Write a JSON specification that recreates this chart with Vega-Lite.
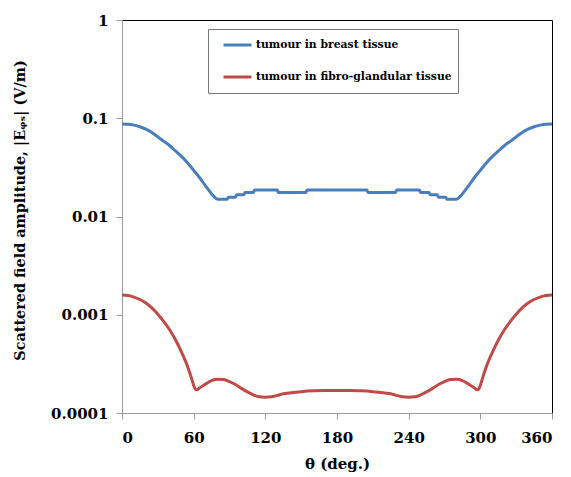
{
  "$schema": "https://vega.github.io/schema/vega-lite/v6.json",
  "width": 430,
  "height": 393,
  "autosize": {"type": "none"},
  "padding": {"left": 122, "top": 20, "right": 19, "bottom": 64},
  "background": "white",
  "config": {
    "view": {"stroke": "#000000", "strokeWidth": 1},
    "font": "DejaVu Serif",
    "axis": {
      "grid": false,
      "domainColor": "#9a9a9a",
      "tickColor": "#9a9a9a",
      "labelFont": "DejaVu Serif",
      "labelFontWeight": "bold",
      "labelFontSize": 15,
      "labelColor": "#000000",
      "titleFont": "DejaVu Serif",
      "titleFontWeight": "bold",
      "titleFontSize": 15,
      "titleColor": "#000000",
      "tickSize": 6
    }
  },
  "layer": [
    {
      "data": {"values": [
        {"t": 0, "v": 0.0874}, {"t": 5, "v": 0.0869}, {"t": 10, "v": 0.0851}, {"t": 15, "v": 0.082},
        {"t": 20, "v": 0.0776}, {"t": 25, "v": 0.0716}, {"t": 30, "v": 0.0646}, {"t": 35, "v": 0.0582},
        {"t": 40, "v": 0.0525}, {"t": 45, "v": 0.0462}, {"t": 50, "v": 0.0407}, {"t": 55, "v": 0.0351},
        {"t": 60, "v": 0.0295}, {"t": 65, "v": 0.0248}, {"t": 70, "v": 0.0204}, {"t": 75, "v": 0.017},
        {"t": 78, "v": 0.0155}, {"t": 80, "v": 0.015}, {"t": 88, "v": 0.015}, {"t": 89, "v": 0.0157},
        {"t": 95, "v": 0.0157}, {"t": 96, "v": 0.0166}, {"t": 102, "v": 0.0166}, {"t": 103, "v": 0.0176},
        {"t": 110, "v": 0.0176}, {"t": 111, "v": 0.0186}, {"t": 130, "v": 0.0186}, {"t": 131, "v": 0.0176},
        {"t": 154, "v": 0.0176}, {"t": 155, "v": 0.0186}, {"t": 180, "v": 0.0186}, {"t": 205, "v": 0.0186},
        {"t": 206, "v": 0.0176}, {"t": 229, "v": 0.0176}, {"t": 230, "v": 0.0186}, {"t": 249, "v": 0.0186},
        {"t": 250, "v": 0.0176}, {"t": 257, "v": 0.0176}, {"t": 258, "v": 0.0166}, {"t": 264, "v": 0.0166},
        {"t": 265, "v": 0.0157}, {"t": 271, "v": 0.0157}, {"t": 272, "v": 0.015}, {"t": 280, "v": 0.015},
        {"t": 282, "v": 0.0155}, {"t": 285, "v": 0.017}, {"t": 290, "v": 0.0204}, {"t": 295, "v": 0.0248},
        {"t": 300, "v": 0.0295}, {"t": 305, "v": 0.0351}, {"t": 310, "v": 0.0407}, {"t": 315, "v": 0.0462},
        {"t": 320, "v": 0.0525}, {"t": 325, "v": 0.0582}, {"t": 330, "v": 0.0646}, {"t": 335, "v": 0.0716},
        {"t": 340, "v": 0.0776}, {"t": 345, "v": 0.082}, {"t": 350, "v": 0.0851}, {"t": 355, "v": 0.0869},
        {"t": 360, "v": 0.0874}
      ]},
      "mark": {"type": "line", "strokeWidth": 3, "interpolate": "monotone"},
      "encoding": {
        "x": {"field": "t", "type": "quantitative"},
        "y": {"field": "v", "type": "quantitative"},
        "color": {"datum": "tumour in breast tissue"}
      }
    },
    {
      "data": {"values": [
        {"t": 0, "v": 0.001585}, {"t": 5, "v": 0.001567}, {"t": 10, "v": 0.001514}, {"t": 15, "v": 0.001429},
        {"t": 20, "v": 0.001318}, {"t": 25, "v": 0.001175}, {"t": 30, "v": 0.001012}, {"t": 35, "v": 0.000851},
        {"t": 40, "v": 0.0007}, {"t": 45, "v": 0.00055}, {"t": 50, "v": 0.000412}, {"t": 55, "v": 0.000295},
        {"t": 58, "v": 0.000229}, {"t": 60, "v": 0.000191}, {"t": 61, "v": 0.000178}, {"t": 62, "v": 0.000172},
        {"t": 63, "v": 0.000172}, {"t": 64, "v": 0.000176}, {"t": 65, "v": 0.00018}, {"t": 70, "v": 0.000197},
        {"t": 75, "v": 0.000214}, {"t": 80, "v": 0.000221}, {"t": 85, "v": 0.000219}, {"t": 90, "v": 0.000209},
        {"t": 95, "v": 0.000195}, {"t": 100, "v": 0.000178}, {"t": 105, "v": 0.000164}, {"t": 110, "v": 0.000153},
        {"t": 115, "v": 0.000146}, {"t": 120, "v": 0.000145}, {"t": 125, "v": 0.000146}, {"t": 130, "v": 0.000151},
        {"t": 135, "v": 0.000157}, {"t": 140, "v": 0.00016}, {"t": 150, "v": 0.000165}, {"t": 160, "v": 0.000168},
        {"t": 170, "v": 0.000169}, {"t": 180, "v": 0.000169}, {"t": 190, "v": 0.000169}, {"t": 200, "v": 0.000168},
        {"t": 210, "v": 0.000165}, {"t": 220, "v": 0.00016}, {"t": 225, "v": 0.000157}, {"t": 230, "v": 0.000151},
        {"t": 235, "v": 0.000146}, {"t": 240, "v": 0.000145}, {"t": 245, "v": 0.000146}, {"t": 250, "v": 0.000153},
        {"t": 255, "v": 0.000164}, {"t": 260, "v": 0.000178}, {"t": 265, "v": 0.000195}, {"t": 270, "v": 0.000209},
        {"t": 275, "v": 0.000219}, {"t": 280, "v": 0.000221}, {"t": 285, "v": 0.000214}, {"t": 290, "v": 0.000197},
        {"t": 295, "v": 0.00018}, {"t": 296, "v": 0.000176}, {"t": 297, "v": 0.000172}, {"t": 298, "v": 0.000172},
        {"t": 299, "v": 0.000178}, {"t": 300, "v": 0.000191}, {"t": 302, "v": 0.000229}, {"t": 305, "v": 0.000295},
        {"t": 310, "v": 0.000412}, {"t": 315, "v": 0.00055}, {"t": 320, "v": 0.0007}, {"t": 325, "v": 0.000851},
        {"t": 330, "v": 0.001012}, {"t": 335, "v": 0.001175}, {"t": 340, "v": 0.001318}, {"t": 345, "v": 0.001429},
        {"t": 350, "v": 0.001514}, {"t": 355, "v": 0.001567}, {"t": 360, "v": 0.001585}
      ]},
      "mark": {"type": "line", "strokeWidth": 3, "interpolate": "monotone"},
      "encoding": {
        "x": {"field": "t", "type": "quantitative"},
        "y": {"field": "v", "type": "quantitative"},
        "color": {"datum": "tumour in fibro-glandular tissue"}
      }
    }
  ],
  "encoding": {
    "x": {
      "field": "t",
      "type": "quantitative",
      "scale": {"domain": [0, 360], "nice": false, "zero": false},
      "axis": {"values": [0, 60, 120, 180, 240, 300, 360], "title": "θ (deg.)", "labelPadding": 11, "titlePadding": 11}
    },
    "y": {
      "field": "v",
      "type": "quantitative",
      "scale": {"type": "log", "domain": [0.0001, 1], "nice": false},
      "axis": {"values": [0.0001, 0.001, 0.01, 0.1, 1], "format": "~g", "labelPadding": 8, "title": "Scattered field amplitude, |Eᵩₛ| (V/m)", "titleFontSize": 14.4, "titleX": -102, "titleY": 190, "titleBaseline": "middle"}
    },
    "color": {
      "type": "nominal",
      "scale": {"domain": ["tumour in breast tissue", "tumour in fibro-glandular tissue"], "range": ["#4a7ebb", "#be4b48"]},
      "legend": {
        "title": null,
        "orient": "none",
        "legendX": 86,
        "legendY": 9,
        "direction": "vertical",
        "strokeColor": "#777777",
        "fillColor": "#ffffff",
        "padding": 6,
        "symbolOffset": 8,
        "clipHeight": 20,
        "symbolType": "stroke",
        "symbolSize": 784,
        "symbolStrokeWidth": 3,
        "labelFont": "DejaVu Serif",
        "labelFontWeight": "bold",
        "labelFontSize": 10.8,
        "labelColor": "#000000",
        "labelOffset": 3,
        "rowPadding": 12,
        "labelLimit": 400
      }
    }
  }
}
